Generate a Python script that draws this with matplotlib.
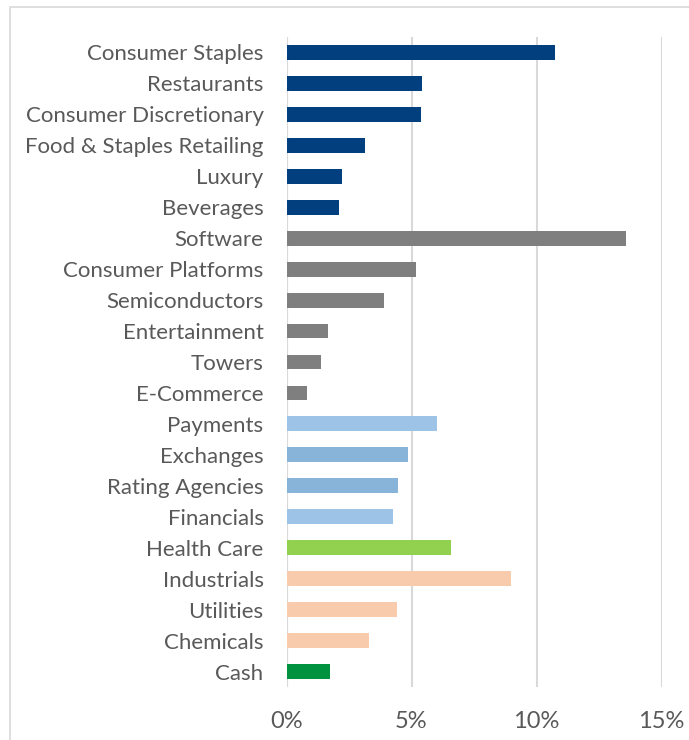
import matplotlib
matplotlib.use("Agg")
import matplotlib.pyplot as plt
from matplotlib.patches import Rectangle

categories = ["Consumer Staples", "Restaurants", "Consumer Discretionary",
              "Food & Staples Retailing", "Luxury", "Beverages", "Software",
              "Consumer Platforms", "Semiconductors", "Entertainment", "Towers",
              "E-Commerce", "Payments", "Exchanges", "Rating Agencies",
              "Financials", "Health Care", "Industrials", "Utilities",
              "Chemicals", "Cash"]
values = [10.74, 5.42, 5.38, 3.14, 2.22, 2.10, 13.58, 5.18, 3.90, 1.66, 1.38,
          0.82, 6.02, 4.86, 4.46, 4.26, 6.58, 8.98, 4.42, 3.30, 1.74]
colors = ["#023F7E"] * 6 + ["#7F7F7F"] * 6 + \
         ["#9DC3E6", "#88B4DA", "#88B4DA", "#9DC3E6"] + \
         ["#92D050"] + ["#F8CBAD"] * 3 + ["#00923F"]
xticks = [0, 5, 10, 15]
xticklabels = ["0%", "5%", "10%", "15%"]

plt.rcParams['font.family'] = ['Lato', 'DejaVu Sans']

fig = plt.figure(figsize=(6.89, 7.40), dpi=100)
fig.patches.append(Rectangle((10/689, -0.1), 1.2, 1 - 7/740 + 0.1,
                             transform=fig.transFigure, fill=False,
                             edgecolor="#D9D9D9", linewidth=1.2))
ax = fig.add_axes([286.5/689, 1 - 687/740, 375/689, 650/740])

y = list(range(len(categories)))
ax.barh(y, values, height=0.48, color=colors, zorder=3)
ax.set_ylim(len(categories) - 0.5, -0.5)
ax.set_xlim(0, 15)
ax.set_xticks(xticks)
ax.set_xticklabels(xticklabels)
ax.set_yticks(y)
ax.set_yticklabels(categories)
ax.grid(axis="x", color="#D9D9D9", linewidth=1.5, zorder=0)
for s in ax.spines.values():
    s.set_visible(False)
ax.tick_params(axis="both", length=0, colors="#595959")
ax.tick_params(axis="y", pad=16.5, labelsize=16)
ax.tick_params(axis="x", pad=17, labelsize=17)
ax.axvline(0, color="#D9D9D9", linewidth=1.5, zorder=1)

fig.savefig("out.png", dpi=100)
